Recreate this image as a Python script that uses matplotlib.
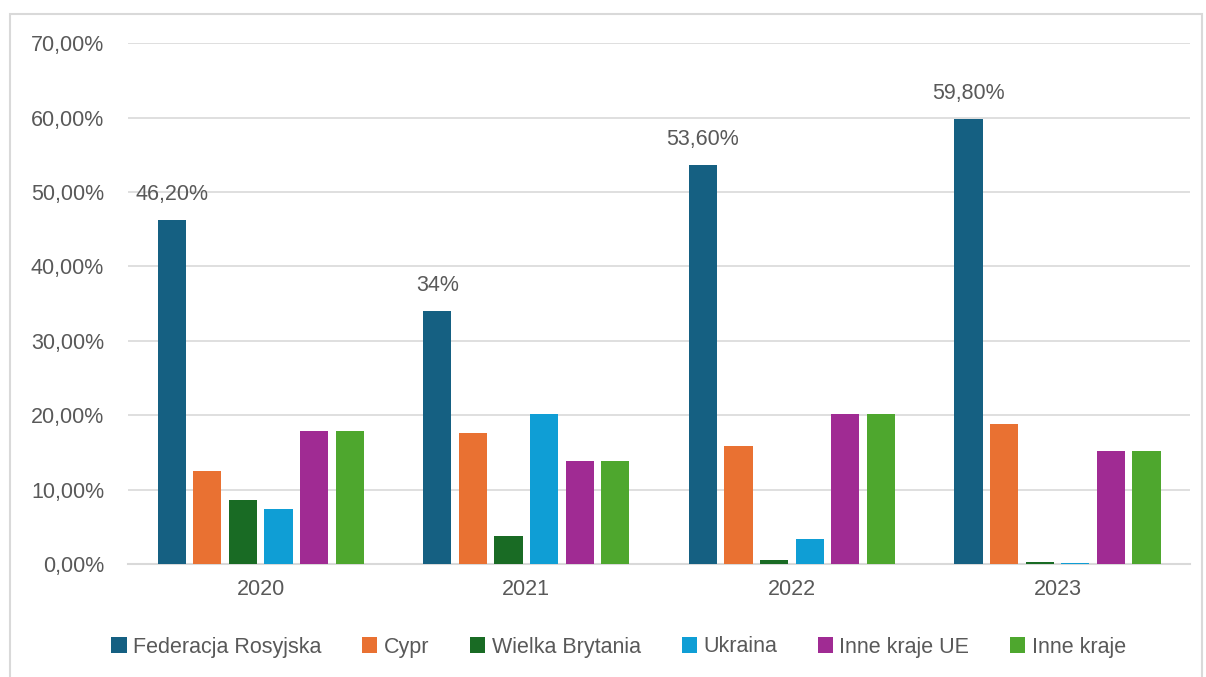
import matplotlib.pyplot as plt
from matplotlib.patches import Rectangle
from matplotlib.ticker import FuncFormatter
import numpy as np

plt.rcParams['font.family'] = ['Liberation Sans', 'DejaVu Sans']

years = ["2020", "2021", "2022", "2023"]
series_names = ["Federacja Rosyjska", "Cypr", "Wielka Brytania", "Ukraina",
                "Inne kraje UE", "Inne kraje"]
federacja = [46.2, 34.0, 53.6, 59.8]
cypr = [12.5, 17.6, 15.9, 18.8]
wielka_brytania = [8.6, 3.8, 0.5, 0.3]
ukraina = [7.4, 20.2, 3.4, 0.1]
inne_ue = [17.9, 13.8, 20.1, 15.2]
inne_kraje = [17.9, 13.8, 20.1, 15.2]
fr_labels = ["46,20%", "34%", "53,60%", "59,80%"]

colors = ["#156082", "#E97132", "#196B24", "#0F9ED5", "#A02B93", "#4EA72E"]
text_col = "#595959"

fig = plt.figure(figsize=(12.06, 6.77), dpi=100)
ax = fig.add_axes([0.106, 0.167, 0.881, 0.769])

# light border around the chart area
fig.patches.append(Rectangle((10 / 1206, -0.01), 1192 / 1206, 1 - 14 / 677 + 0.01,
                             transform=fig.transFigure, fill=False,
                             edgecolor="#d9d9d9", linewidth=1.5))

x = np.arange(len(years))
all_series = [federacja, cypr, wielka_brytania, ukraina, inne_ue, inne_kraje]
step = 0.134
width = 0.106
for i, (vals, name, col) in enumerate(zip(all_series, series_names, colors)):
    pos = x + (i - 2.5) * step
    bars = ax.bar(pos, vals, width=width, color=col, label=name, zorder=3)
    if i == 0:
        for b, lab in zip(bars, fr_labels):
            ax.annotate(lab, (b.get_x() + b.get_width() / 2, b.get_height()),
                        xytext=(0, 11), textcoords="offset points",
                        ha="center", va="bottom", fontsize=15.5, color=text_col)

ax.set_xlim(-0.5, 3.5)
ax.set_ylim(0, 70)
ax.set_yticks(np.arange(0, 71, 10))
ax.yaxis.set_major_formatter(FuncFormatter(lambda v, p: f"{v:.2f}".replace(".", ",") + "%"))
ax.set_xticks(x)
ax.set_xticklabels(years)
ax.tick_params(axis="both", length=0, labelsize=15.5, colors=text_col)
ax.tick_params(axis="y", pad=17)
ax.tick_params(axis="x", pad=11)
ax.grid(axis="y", color="#d9d9d9", linewidth=1.2, zorder=0)
for s in ["top", "right", "left"]:
    ax.spines[s].set_visible(False)
ax.spines["bottom"].set_color("#d9d9d9")
ax.spines["bottom"].set_linewidth(1.5)

leg = fig.legend(loc="center", bbox_to_anchor=(0.513, 1 - 647 / 677), ncol=6,
                 frameon=False, fontsize=15.5, handlelength=0.7, handleheight=0.7,
                 handletextpad=0.3, columnspacing=1.9)
for t in leg.get_texts():
    t.set_color(text_col)

fig.savefig("out.png", dpi=100)
